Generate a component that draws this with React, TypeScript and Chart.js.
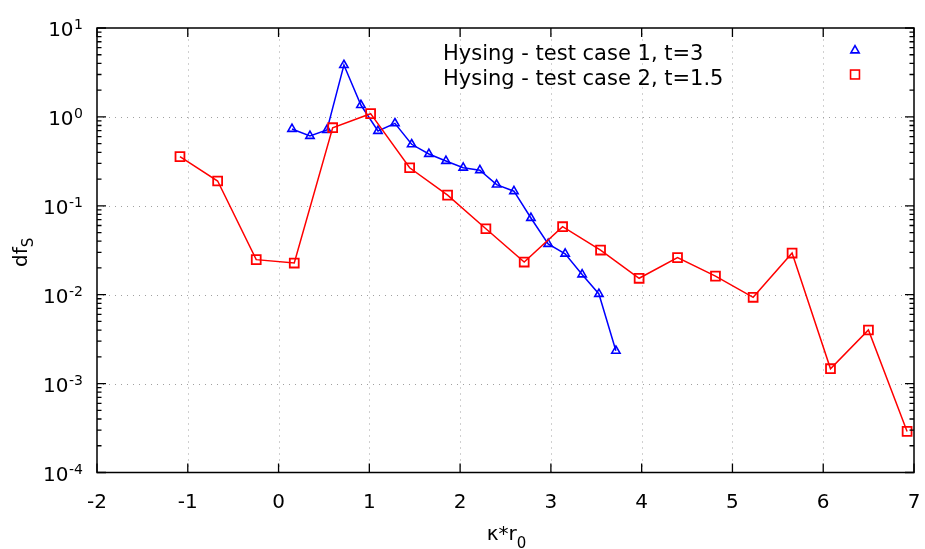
import React, { useEffect, useRef } from 'react';
import { Chart, registerables } from 'chart.js';

Chart.register(...registerables);

// ---- data ----
const kappaCase1 = [0.148, 0.346, 0.533, 0.72, 0.907, 1.095, 1.282, 1.466, 1.656, 1.844, 2.034, 2.218, 2.402, 2.593, 2.78, 2.97, 3.157, 3.344, 3.529, 3.716];
const dfCase1 = [0.731, 0.61, 0.713, 3.83, 1.36, 0.694, 0.847, 0.492, 0.383, 0.319, 0.268, 0.251, 0.173, 0.146, 0.0729, 0.0372, 0.0289, 0.0169, 0.0102, 0.00234];

const kappaCase2 = [-1.086, -0.671, -0.246, 0.173, 0.596, 1.014, 1.444, 1.862, 2.284, 2.706, 3.129, 3.547, 3.972, 4.395, 4.813, 5.228, 5.657, 6.08, 6.498, 6.924];
const dfCase2 = [0.357, 0.19, 0.0248, 0.0227, 0.756, 1.087, 0.268, 0.132, 0.0552, 0.0233, 0.0582, 0.0318, 0.0153, 0.0261, 0.0162, 0.00935, 0.0294, 0.00147, 0.00401, 0.00029];

const xTickValues = [-2, -1, 0, 1, 2, 3, 4, 5, 6, 7];
const yTickExponents = [1, 0, -1, -2, -3, -4];
const legendLabels = ['Hysing - test case 1, t=3', 'Hysing - test case 2, t=1.5'];
const xTitleMain = 'κ*r';
const xTitleSub = '0';
const yTitleMain = 'df';
const yTitleSub = 'S';

const FONT_FAMILY = '"DejaVu Sans", sans-serif';
const BLUE = '#0000ff';
const RED = '#ff0000';

function trianglePath(ctx: CanvasRenderingContext2D, x: number, y: number, r: number) {
  let a = 0;
  ctx.beginPath();
  ctx.moveTo(x + Math.sin(a) * r, y - Math.cos(a) * r);
  a += (2 * Math.PI) / 3;
  ctx.lineTo(x + Math.sin(a) * r, y - Math.cos(a) * r);
  a += (2 * Math.PI) / 3;
  ctx.lineTo(x + Math.sin(a) * r, y - Math.cos(a) * r);
  ctx.closePath();
}

const decorPlugin = {
  id: 'gnuplotDecor',
  beforeDatasetsDraw(chart: any) {
    const { ctx, chartArea: a, scales } = chart;
    const xs = scales.x;
    const ys = scales.y;
    ctx.save();
    ctx.strokeStyle = '#a0a0a0';
    ctx.lineWidth = 1;
    ctx.setLineDash([1, 5]);
    xTickValues.forEach((t, i) => {
      if (i === 0 || i === xTickValues.length - 1) return;
      const px = Math.round(xs.getPixelForValue(t)) + 0.5;
      ctx.beginPath();
      ctx.moveTo(px, a.bottom);
      ctx.lineTo(px, a.top);
      ctx.stroke();
    });
    yTickExponents.forEach((e, i) => {
      if (i === 0 || i === yTickExponents.length - 1) return;
      const py = Math.round(ys.getPixelForValue(Math.pow(10, e))) + 0.5;
      ctx.beginPath();
      ctx.moveTo(a.left, py);
      ctx.lineTo(a.right, py);
      ctx.stroke();
    });
    ctx.restore();
  },
  afterDraw(chart: any) {
    const { ctx, chartArea: a, scales } = chart;
    const xs = scales.x;
    const ys = scales.y;
    ctx.save();
    ctx.setLineDash([]);
    ctx.strokeStyle = '#000';
    ctx.lineWidth = 1.3;

    // ticks
    const major = 9;
    const minor = 4.5;
    ctx.beginPath();
    xTickValues.forEach((t) => {
      const px = xs.getPixelForValue(t);
      ctx.moveTo(px, a.bottom);
      ctx.lineTo(px, a.bottom - major);
      ctx.moveTo(px, a.top);
      ctx.lineTo(px, a.top + major);
    });
    yTickExponents.forEach((e) => {
      const py = ys.getPixelForValue(Math.pow(10, e));
      ctx.moveTo(a.left, py);
      ctx.lineTo(a.left + major, py);
      ctx.moveTo(a.right, py);
      ctx.lineTo(a.right - major, py);
      if (e > -4) {
        for (let m = 2; m <= 9; m++) {
          const pm = ys.getPixelForValue(m * Math.pow(10, e - 1));
          ctx.moveTo(a.left, pm);
          ctx.lineTo(a.left + minor, pm);
          ctx.moveTo(a.right, pm);
          ctx.lineTo(a.right - minor, pm);
        }
      }
    });
    ctx.stroke();

    // frame
    ctx.lineWidth = 1.5;
    ctx.strokeRect(a.left, a.top, a.right - a.left, a.bottom - a.top);

    ctx.fillStyle = '#000';
    // x tick labels
    ctx.font = `20px ${FONT_FAMILY}`;
    ctx.textAlign = 'center';
    ctx.textBaseline = 'alphabetic';
    xTickValues.forEach((t) => {
      ctx.fillText(String(t), xs.getPixelForValue(t), a.bottom + 35.5);
    });

    // y tick labels 10^e
    const labelRight = a.left - 14;
    yTickExponents.forEach((e) => {
      const py = ys.getPixelForValue(Math.pow(10, e));
      const sup = String(e);
      ctx.font = `14px ${FONT_FAMILY}`;
      const supW = ctx.measureText(sup).width;
      ctx.textAlign = 'left';
      ctx.fillText(sup, labelRight - supW, py + 1);
      ctx.font = `20px ${FONT_FAMILY}`;
      ctx.textAlign = 'right';
      ctx.fillText('10', labelRight - supW - 0.5, py + 8);
    });

    // x title
    ctx.font = `20px ${FONT_FAMILY}`;
    const mainW = ctx.measureText(xTitleMain).width;
    ctx.font = `15px ${FONT_FAMILY}`;
    const subW = ctx.measureText(xTitleSub).width;
    const cx = (a.left + a.right) / 2 + 1;
    const startX = cx - (mainW + subW) / 2;
    ctx.textAlign = 'left';
    ctx.font = `20px ${FONT_FAMILY}`;
    ctx.fillText(xTitleMain, startX, 540);
    ctx.font = `15px ${FONT_FAMILY}`;
    ctx.fillText(xTitleSub, startX + mainW, 548);

    // y title (rotated)
    ctx.save();
    ctx.translate(27, (a.top + a.bottom) / 2 + 2);
    ctx.rotate(-Math.PI / 2);
    ctx.font = `20px ${FONT_FAMILY}`;
    const yMainW = ctx.measureText(yTitleMain).width;
    ctx.font = `15px ${FONT_FAMILY}`;
    const ySubW = ctx.measureText(yTitleSub).width;
    const ys0 = -(yMainW + ySubW) / 2;
    ctx.textAlign = 'left';
    ctx.font = `20px ${FONT_FAMILY}`;
    ctx.fillText(yTitleMain, ys0, 0);
    ctx.font = `15px ${FONT_FAMILY}`;
    ctx.fillText(yTitleSub, ys0 + yMainW, 6);
    ctx.restore();

    // legend
    ctx.font = `21px ${FONT_FAMILY}`;
    ctx.textAlign = 'left';
    ctx.fillText(legendLabels[0], 443, 60);
    ctx.fillText(legendLabels[1], 443, 85);
    ctx.lineWidth = 1.6;
    ctx.strokeStyle = BLUE;
    trianglePath(ctx, 855, 50.5, 4.8);
    ctx.stroke();
    ctx.strokeStyle = RED;
    const s = 6.3 * Math.SQRT1_2;
    ctx.strokeRect(855 - s, 74.5 - s, 2 * s, 2 * s);

    ctx.restore();
  },
};

export default function App() {
  const canvasRef = useRef<HTMLCanvasElement | null>(null);

  useEffect(() => {
    document.body.style.margin = '0';
    const canvas = canvasRef.current;
    if (!canvas) return;
    const chart = new Chart(canvas, {
      type: 'line',
      data: {
        datasets: [
          {
            label: legendLabels[1],
            data: kappaCase2.map((k, i) => ({ x: k, y: dfCase2[i] })),
            borderColor: RED,
            backgroundColor: 'rgba(0,0,0,0)',
            borderWidth: 1.5,
            pointStyle: 'rect',
            pointRadius: 6.3,
            pointBorderWidth: 1.8,
            pointBorderColor: RED,
            pointBackgroundColor: 'rgba(0,0,0,0)',
            tension: 0,
            fill: false,
            order: 0,
          },
          {
            label: legendLabels[0],
            data: kappaCase1.map((k, i) => ({ x: k, y: dfCase1[i] })),
            borderColor: BLUE,
            backgroundColor: 'rgba(0,0,0,0)',
            borderWidth: 1.5,
            pointStyle: 'triangle',
            pointRadius: 4.8,
            pointBorderWidth: 1.6,
            pointBorderColor: BLUE,
            pointBackgroundColor: 'rgba(0,0,0,0)',
            tension: 0,
            fill: false,
            order: 1,
          },
        ],
      },
      options: {
        animation: false,
        responsive: false,
        devicePixelRatio: 1,
        layout: { padding: { top: 28, right: 11, left: 0, bottom: 0 } },
        plugins: {
          legend: { display: false },
          tooltip: { enabled: false },
          title: { display: false },
        },
        scales: {
          x: {
            type: 'linear',
            min: -2,
            max: 7,
            ticks: { display: false, stepSize: 1 },
            grid: { display: false },
            border: { display: false },
            afterFit: (s: any) => {
              s.height = 76.5;
            },
          },
          y: {
            type: 'logarithmic',
            min: 1e-4,
            max: 10,
            ticks: { display: false },
            grid: { display: false },
            border: { display: false },
            afterFit: (s: any) => {
              s.width = 97;
            },
          },
        },
      },
      plugins: [decorPlugin],
    } as any);
    return () => chart.destroy();
  }, []);

  return (
    <div style={{ position: 'absolute', left: 0, top: 0, width: 925, height: 549, background: '#fff' }}>
      <canvas ref={canvasRef} width={925} height={549} />
    </div>
  );
}
